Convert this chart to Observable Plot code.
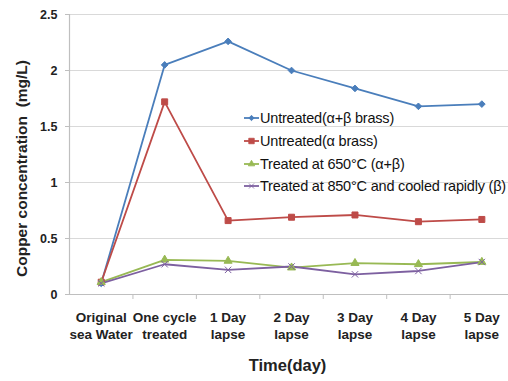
<!DOCTYPE html>
<html>
<head>
<meta charset="utf-8">
<script src="https://cdn.jsdelivr.net/npm/d3@7"></script>
<script src="https://cdn.jsdelivr.net/npm/@observablehq/plot@0.6"></script>
<style>
  html, body { margin: 0; padding: 0; background: #fff; }
  #wrap { position: relative; width: 508px; height: 381px; font-family: "Liberation Sans", Arial, sans-serif; }
  #legend { position: absolute; left: 244px; top: 107px; font-size: 14.5px; color: #111; letter-spacing: -0.2px; }
  .row { height: 22.7px; display: flex; align-items: center; white-space: nowrap; }
  .row svg { margin-right: 1px; }
</style>
</head>
<body>
<div id="wrap"><div id="legend"></div></div>
<script>
const categories = ["Original\nsea Water", "One cycle\ntreated", "1 Day\nlapse", "2 Day\nlapse", "3 Day\nlapse", "4 Day\nlapse", "5 Day\nlapse"];
const seriesNames = ["Untreated(α+β brass)", "Untreated(α brass)", "Treated at 650°C (α+β)", "Treated at 850°C and cooled rapidly (β)"];
const untreatedAB = [0.10, 2.05, 2.26, 2.00, 1.84, 1.68, 1.70];
const untreatedA  = [0.11, 1.72, 0.66, 0.69, 0.71, 0.65, 0.67];
const treated650  = [0.11, 0.31, 0.30, 0.24, 0.28, 0.27, 0.29];
const treated850  = [0.10, 0.27, 0.22, 0.25, 0.18, 0.21, 0.29];
const colors = ["#4a7ebb", "#be4b48", "#98b954", "#7d60a0"];
const symbols = ["diamond2", "square", "triangle", "times"];
const yTicks = [0, 0.5, 1, 1.5, 2, 2.5];

const allSeries = [untreatedAB, untreatedA, treated650, treated850];
const data = allSeries.flatMap((vals, s) => vals.map((v, i) => ({i, v, s: seriesNames[s]})));
const idx = categories.map((c, i) => i);
const bounds = idx.slice(0, -1).map(i => i + 0.5);

const colorScale = {domain: seriesNames, range: colors};

const chart = Plot.plot({
  width: 508,
  height: 381,
  marginLeft: 69,
  marginRight: 0,
  marginTop: 14,
  marginBottom: 87,
  style: {fontFamily: "Liberation Sans, Arial, sans-serif", background: "#fff"},
  x: {domain: [-0.5, 6.42]},
  y: {domain: [0, 2.5]},
  color: colorScale,
  symbol: {domain: seriesNames, range: symbols},
  marks: [
    Plot.ruleY(yTicks.slice(1), {stroke: "#d9d9d9", strokeWidth: 1.2}),
    Plot.ruleY([0], {stroke: "#bfbfbf", strokeWidth: 1.2}),
    Plot.ruleX([-0.5], {stroke: "#bfbfbf", strokeWidth: 1.2}),
    Plot.axisY({ticks: yTicks, tickSize: 4, tickPadding: 8, stroke: "#bfbfbf", tickFormat: d => String(d),
      fontSize: 12.5, fontWeight: "bold", fill: "#222", label: null}),
    Plot.axisX({ticks: bounds, tickSize: 5, stroke: "#bfbfbf", tickFormat: () => "", label: null}),
    Plot.axisX({ticks: idx, tickSize: 0, tickPadding: 16, tickFormat: i => categories[i],
      fontSize: 13.5, fontWeight: "bold", fill: "#222", lineHeight: 1.25, label: null}),
    Plot.text(["Copper concentration  (mg/L)"], {frameAnchor: "left", textAnchor: "middle", dx: -47, dy: 14, rotate: -90, fontSize: 15.5, fontWeight: "bold", fill: "#222"}),
    Plot.text(["Time(day)"], {frameAnchor: "bottom", dy: 76, dx: -1.5, fontSize: 16.5, fontWeight: "bold", fill: "#222"}),
    Plot.line(data, {x: "i", y: "v", z: "s", stroke: "s", strokeWidth: 1.8}),
    Plot.dot(data, {x: "i", y: "v", symbol: "s", fill: "s", stroke: "s", r: d => d.s === seriesNames[1] ? 2.8 : 2.2, strokeWidth: 1})
  ]
});
document.getElementById("wrap").prepend(chart);

const legend = document.getElementById("legend");
seriesNames.forEach((name, k) => {
  const row = document.createElement("div");
  row.className = "row";
  const sw = d3.create("svg").attr("width", 15).attr("height", 10);
  sw.append("line").attr("x1", 0).attr("x2", 15).attr("y1", 5).attr("y2", 5).attr("stroke", colors[k]).attr("stroke-width", 1.8);
  const sym = [d3.symbolDiamond2, d3.symbolSquare, d3.symbolTriangle, d3.symbolTimes][k];
  sw.append("path").attr("d", d3.symbol(sym, k === 1 ? 30 : 18)()).attr("transform", "translate(7.5,5)")
    .attr("fill", colors[k]).attr("stroke", colors[k]).attr("stroke-width", 0.8);
  row.append(sw.node());
  const t = document.createElement("span");
  t.textContent = name;
  row.append(t);
  legend.append(row);
});
</script>
</body>
</html>
